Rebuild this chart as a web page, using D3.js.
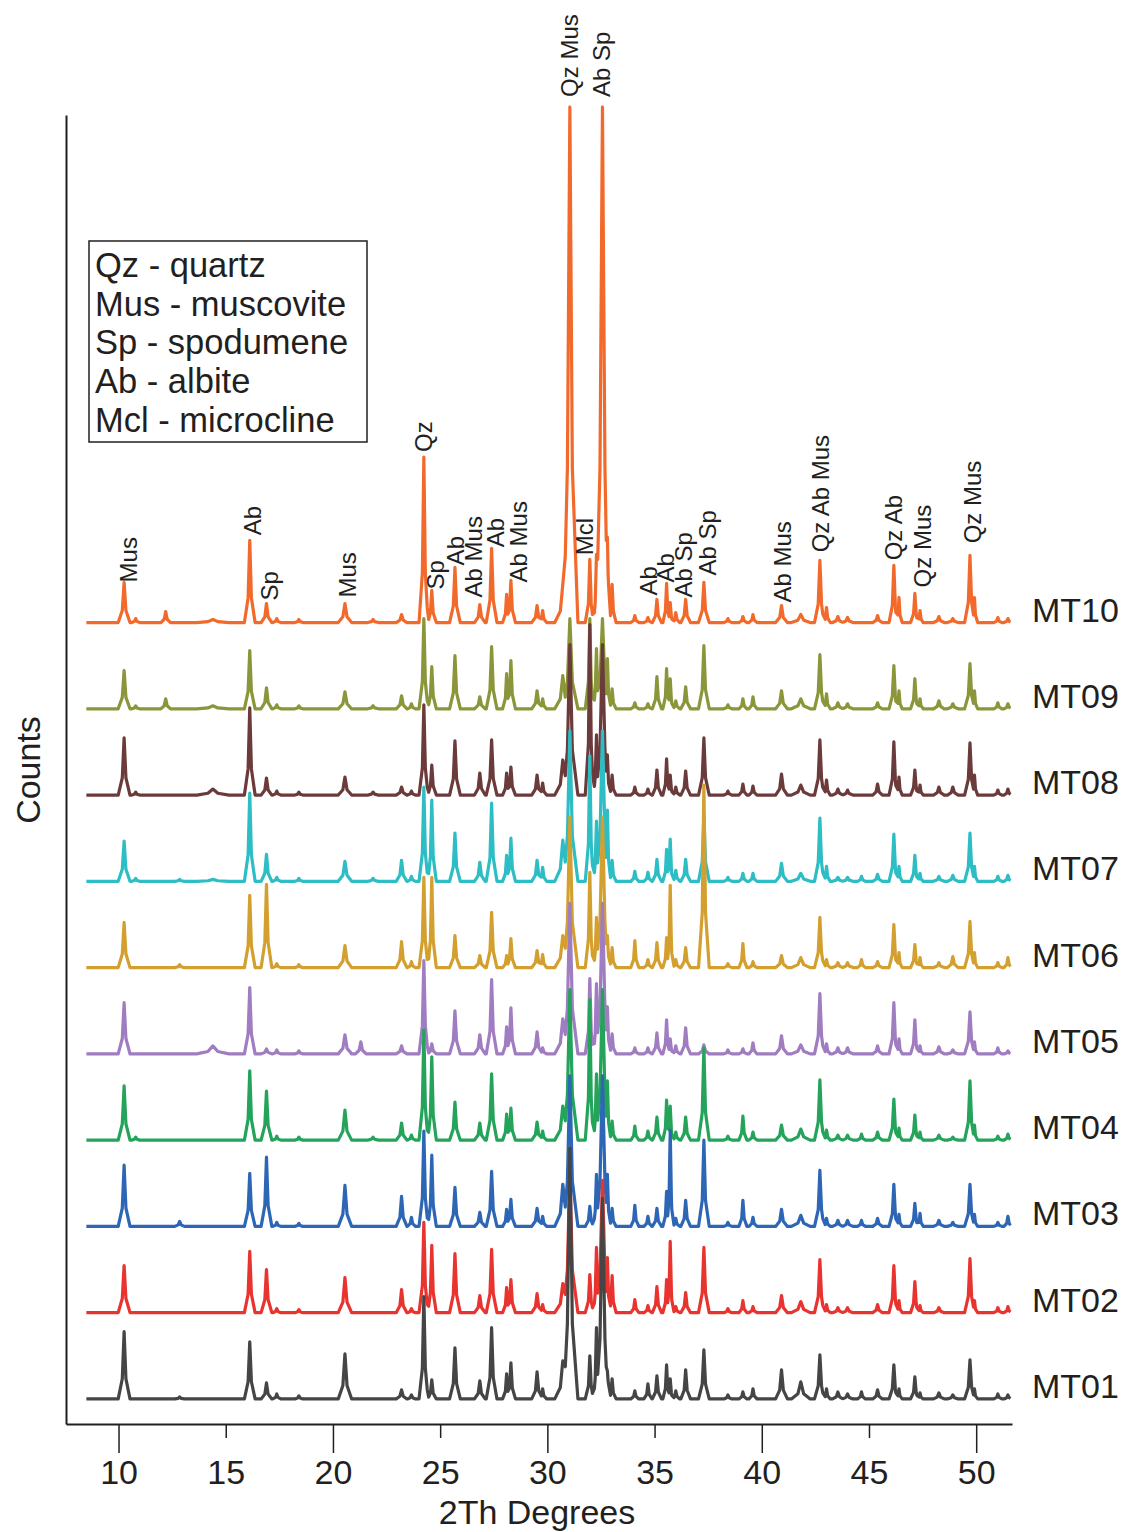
<!DOCTYPE html>
<html>
<head>
<meta charset="utf-8">
<script src="https://cdn.jsdelivr.net/npm/d3@7"></script>
<style>
  body { margin: 0; background: #fff; }
  text { font-family: "Liberation Sans", Arial, sans-serif; fill: #231f20; }
</style>
</head>
<body>
<div id="chart"></div>
<script>
// peak positions (2Th degrees) and half base widths
var twoTheta = [10.26,10.80,12.20,12.85,14.40,16.12,16.90,17.38,18.41,20.56,
  21.30,21.87,23.20,23.66,24.24,24.61,25.69,26.85,27.40,28.10,
  28.30,29.52,29.78,30.72,31.05,31.98,32.29,32.57,32.80,33.02,
  34.08,34.69,35.11,35.56,35.73,35.99,36.45,37.30,38.42,39.12,
  39.59,40.92,41.82,42.71,43.02,43.55,44.00,44.65,45.40,46.16,
  46.40,47.14,47.38,48.26,48.91,49.71,49.92,51.01,51.48];
var halfWidth = [.22,.15,.18,.18,.6,.2,.2,.15,.15,.25,
  .2,.2,.2,.15,.18,.17,.2,.2,.2,.15,
  .17,.2,.15,.3,.3,.17,.15,.3,.14,.15,
  .15,.15,.17,.14,.14,.15,.18,.2,.15,.15,
  .15,.22,.35,.2,.14,.2,.2,.15,.18,.18,
  .12,.16,.12,.2,.2,.2,.12,.15,.15];

// peak heights (counts) per sample, same order as twoTheta
var mt01 = [67,0,0,2,0,57,16,5,3,45, 0,0,9,4,102,19,51,18,71,25, 36,27,10,38,250,43,71,200,28,20, 8,15,23,34,20,8,29,49,4,7, 10,29,17,44,10,7,5,7,9,34, 10,22,6,6,4,39,10,5,4];
var mt02 = [47,0,0,0,0,61,43,4,3,35, 0,0,23,4,90,67,59,17,63,25, 33,19,8,29,142,38,65,132,55,37, 13,7,26,33,71,6,20,65,4,12, 6,17,11,53,8,5,5,0,8,47, 12,31,7,5,0,54,12,5,6];
var mt03 = [61,0,0,5,0,53,69,4,3,41, 0,0,30,9,95,71,39,14,55,17, 27,18,10,42,150,20,52,150,52,18, 21,10,18,35,96,8,26,86,4,26, 9,17,11,56,8,6,6,6,8,42, 12,23,13,6,4,42,12,4,10];
var mt04 = [54,3,0,0,0,69,49,4,3,30, 0,3,17,5,110,83,38,17,66,26, 32,18,9,34,150,140,66,150,59,19, 14,9,23,40,34,8,23,92,4,24, 8,15,11,60,10,5,5,6,8,41, 12,25,8,5,3,59,15,4,6];
var mt05 = [51,0,0,0,8,66,5,4,3,19, 12,0,8,0,93,10,43,19,74,27, 46,22,6,35,150,75,70,150,47,20, 6,6,21,34,15,8,26,9,4,5, 11,18,9,60,10,6,6,0,8,51, 15,34,8,7,4,42,12,6,3];
var mt06 = [45,0,0,3,0,72,83,4,3,22, 0,0,26,6,90,90,32,12,55,12, 29,17,13,32,150,95,50,150,32,20, 27,8,25,30,82,8,20,182,4,24, 6,12,10,50,8,5,5,8,6,43, 15,23,10,5,11,46,15,5,10];
var mt07 = [40,3,0,2,2,88,27,4,3,20, 0,3,21,5,94,81,48,19,78,26, 43,21,14,41,150,125,60,150,71,21, 10,9,22,32,42,11,22,65,4,8, 8,18,8,63,15,4,4,5,7,47, 15,26,8,5,6,48,15,5,6];
var mt08 = [57,3,0,0,6,87,17,4,3,18, 0,3,8,4,90,30,54,22,55,22, 28,20,12,35,150,170,60,150,40,20, 8,6,25,36,20,8,24,57,4,11, 9,21,10,55,15,6,5,0,11,53, 18,25,10,8,8,52,20,5,6];
var mt09 = [38,3,10,0,3,58,21,4,3,17, 0,3,13,5,90,42,53,12,62,35, 48,18,10,33,90,90,60,90,50,20, 6,5,32,40,30,8,22,63,4,10, 12,18,10,54,15,6,5,0,6,43, 18,30,10,8,5,45,18,6,5];
var mt10 = [40,4,11,0,3,82,19,4,3,19, 0,3,8,0,165,32,55,18,74,28, 42,17,12,38,514,63,68,514,85,38, 7,5,23,39,20,10,23,40,4,6, 8,17,8,62,15,6,5,0,7,57, 25,29,12,6,4,67,25,5,4];

var sampleNames = ["MT01","MT02","MT03","MT04","MT05","MT06","MT07","MT08","MT09","MT10"];
var sampleData = [mt01, mt02, mt03, mt04, mt05, mt06, mt07, mt08, mt09, mt10];
var sampleColors = ["#454545","#e8332f","#2d66b5","#24a35a","#a07cc0","#d3a030","#2dbdc4","#6b3a3a","#8b953a","#f26a2b"];
var offsetStep = 86;
var scanRange = [8.5, 51.6];
var xTicks = [10, 15, 20, 25, 30, 35, 40, 45, 50];

// phase annotations: label, 2Th, counts level where text starts
var peakLabels = [
  ["Mus", 10.47, 814], ["Ab", 16.25, 861], ["Sp", 17.05, 796], ["Mus", 20.69, 799],
  ["Qz", 24.23, 944], ["Sp", 24.79, 807], ["Ab", 25.72, 831], ["Ab Mus", 26.56, 799],
  ["Ab", 27.59, 849], ["Ab Mus", 28.66, 814], ["Mcl", 31.74, 841],
  ["Qz Mus", 31.04, 1298], ["Ab Sp", 32.53, 1298],
  ["Ab", 34.73, 801], ["Ab", 35.52, 814], ["Ab Sp", 36.36, 799], ["Ab Sp", 37.48, 821],
  ["Ab Mus", 40.98, 794], ["Qz Ab Mus", 42.75, 844], ["Qz Ab", 46.15, 836],
  ["Qz Mus", 47.51, 809], ["Qz Mus", 49.84, 853]
];
var legendLines = ["Qz - quartz", "Mus - muscovite", "Sp - spodumene", "Ab - albite", "Mcl - microcline"];

var svgWidth = 1127, svgHeight = 1532;

var svg = d3.select("#chart").append("svg")
  .attr("width", svgWidth)
  .attr("height", svgHeight);

var x = d3.scaleLinear().domain([7.55, 51.67]).range([66, 1012]);
var y = d3.scaleLinear().domain([-25, 1280]).range([1424, 115]);

// each peak = sharp tip over a low wider foot; pattern is the max of them,
// taken at every break point
function peakAt(v, t, h, w) {
  var d = Math.abs(v - t);
  var tip = h * Math.max(0, 1 - d / (0.55 * w));
  var foot = 0.3 * h * Math.max(0, 1 - d / (1.25 * w));
  return Math.max(tip, foot);
}
function pattern(heights) {
  var xs = scanRange.slice();
  twoTheta.forEach(function(t, i) {
    if (heights[i] > 0) {
      var w = halfWidth[i];
      xs.push(t - 1.25 * w, t - 0.385 * w, t, t + 0.385 * w, t + 1.25 * w);
    }
  });
  xs = Array.from(new Set(xs.map(v => +v.toFixed(4)))).sort(d3.ascending)
    .filter(v => v >= scanRange[0] && v <= scanRange[1]);
  return xs.map(function(v) {
    var h = d3.max(twoTheta, (t, i) => peakAt(v, t, heights[i], halfWidth[i]));
    return [v, h];
  });
}

var line = d3.line()
  .x(d => x(d[0]))
  .y(d => y(d[1]));

// draw top sample first so the lower ones sit in front
var order = d3.range(sampleNames.length).reverse();
svg.append("g").selectAll("path")
  .data(order)
  .enter()
  .append("path")
  .attr("d", i => line(pattern(sampleData[i]).map(p => [p[0], p[1] + i * offsetStep])))
  .attr("fill", "none")
  .attr("stroke", i => sampleColors[i])
  .attr("stroke-width", 3.2)
  .attr("stroke-linejoin", "round");

// sample names
svg.append("g").selectAll("text")
  .data(sampleNames)
  .enter()
  .append("text")
  .attr("x", 1032)
  .attr("y", (d, i) => y(i * offsetStep) - 1)
  .attr("font-size", 34)
  .text(d => d);

// phase labels
svg.append("g").selectAll("text")
  .data(peakLabels)
  .enter()
  .append("text")
  .attr("transform", d => `translate(${x(d[1])},${y(d[2])}) rotate(-90)`)
  .attr("dy", "0.35em")
  .attr("font-size", 24)
  .text(d => d[0]);

// axes
var bottomAxis = d3.axisBottom(x).tickValues(xTicks).tickSize(29).tickSizeOuter(0);
var gx = svg.append("g")
  .attr("transform", `translate(0,${y(-25)})`)
  .call(bottomAxis);
gx.select(".domain").attr("stroke", "#231f20").attr("stroke-width", 2);
gx.selectAll(".tick line").attr("stroke", "#231f20").attr("stroke-width", 1.5)
  .attr("y2", d => d % 10 === 0 ? 29 : 14);
gx.selectAll(".tick text")
  .attr("y", 60).attr("dy", null)
  .attr("font-size", 34)
  .attr("font-family", "Liberation Sans, Arial, sans-serif")
  .attr("fill", "#231f20");

var leftAxis = d3.axisLeft(y).tickValues([]).tickSizeOuter(0);
svg.append("g")
  .attr("transform", `translate(${x(7.55)},0)`)
  .call(leftAxis)
  .select(".domain").attr("stroke", "#231f20").attr("stroke-width", 2);

svg.append("text")
  .attr("x", 537)
  .attr("y", 1524)
  .attr("text-anchor", "middle")
  .attr("font-size", 34)
  .text("2Th Degrees");

svg.append("text")
  .attr("transform", "translate(40,770) rotate(-90)")
  .attr("text-anchor", "middle")
  .attr("font-size", 34)
  .text("Counts");

// legend box
var legend = svg.append("g").attr("transform", "translate(89,241)");
legend.append("rect")
  .attr("width", 278).attr("height", 201)
  .attr("fill", "#fff").attr("stroke", "#231f20").attr("stroke-width", 1.5);
legend.selectAll("text")
  .data(legendLines)
  .enter()
  .append("text")
  .attr("x", 6)
  .attr("y", (d, i) => 36 + i * 38.7)
  .attr("font-size", 34.5)
  .text(d => d);
</script>
</body>
</html>
